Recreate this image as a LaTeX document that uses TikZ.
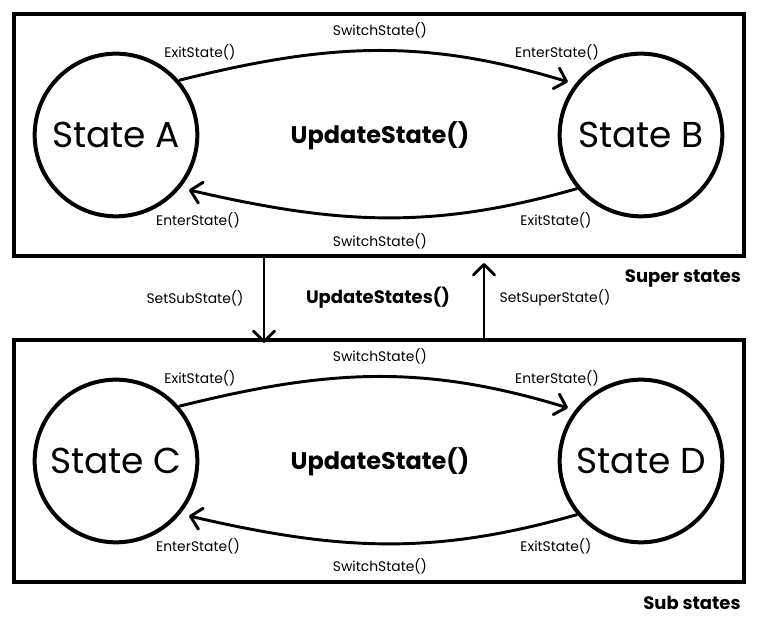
\documentclass[tikz,border=0pt]{standalone}
\usepackage{fontspec}
\setmainfont{Poppins}
\usetikzlibrary{arrows.meta}
\begin{document}
\begin{tikzpicture}[x=0.75pt,y=0.75pt,
  panel/.style={draw,line width=2.3pt,minimum width=547.5pt,minimum height=181.5pt,inner sep=0pt},
  statenode/.style={circle,draw,line width=3pt,minimum size=122pt,inner sep=0pt,font=\fontsize{27}{30}\selectfont},
  lbl/.style={font=\fontsize{10.4}{12}\selectfont,inner sep=0pt},
  bold/.style={font=\bfseries\fontsize{13.5}{16}\selectfont,inner sep=0pt},
  bigbold/.style={font=\bfseries\fontsize{18}{21}\selectfont,inner sep=0pt},
  conn/.style={line width=2.2pt,-{Straight Barb[length=8pt,width=16pt,line width=2.2pt,round]}}]
\useasboundingbox (0,0) rectangle (758,632);
% panels
\node[panel] (super) at (379,497) {};
\node[panel] (sub) at (379,171) {};
% states
\node[statenode] (A) at (116,497) {State A};
\node[statenode] (B) at (641,497) {State B};
\node[statenode] (C) at (116,171) {State C};
\node[statenode] (D) at (641,171) {State D};
% connectors top
\draw[conn] (A.41) to[out=14,in=163] ([shift={(144:7)}]B.144);
\draw[conn] (B.220) to[out=196,in=-13] ([shift={(-37:8)}]A.-37);
% connectors bottom
\draw[conn] (C.41) to[out=14,in=163] ([shift={(144:7)}]D.144);
\draw[conn] (D.220) to[out=196,in=-13] ([shift={(-37:8)}]C.-37);
% labels top
\node[lbl] (t1) at (380,602) {SwitchState()};
\node[lbl] (t2) at (200,580) {ExitState()};
\node[lbl] (t3) at (557,580) {EnterState()};
\node[lbl] (t4) at (198,412) {EnterState()};
\node[lbl] (t5) at (556,412) {ExitState()};
\node[lbl] (t6) at (380,391) {SwitchState()};
\node[bigbold] (u1) at (380,496) {UpdateState()};
% labels bottom
\node[lbl] (b1) at (380,276) {SwitchState()};
\node[lbl] (b2) at (200,254) {ExitState()};
\node[lbl] (b3) at (557,254) {EnterState()};
\node[lbl] (b4) at (198,86) {EnterState()};
\node[lbl] (b5) at (556,86) {ExitState()};
\node[lbl] (b6) at (380,66) {SwitchState()};
\node[bigbold] (u2) at (380,170) {UpdateState()};
% vertical arrows
\coordinate (dx) at (264,0);
\coordinate (ux) at (484,0);
\draw[conn] (super.south -| dx) -- ([yshift=-3.5pt]sub.north -| dx);
\draw[conn] (sub.north -| ux) -- ([yshift=-4pt]super.south -| ux);
\node[lbl] (s1) at (195,334) {SetSubState()};
\node[bold] (s2) at (378,334) {UpdateStates()};
\node[lbl] (s3) at (555,334) {SetSuperState()};
\node[bold] (sup) at (683,354) {Super states};
\node[bold] (sb) at (692,29) {Sub states};
\end{tikzpicture}
\end{document}
